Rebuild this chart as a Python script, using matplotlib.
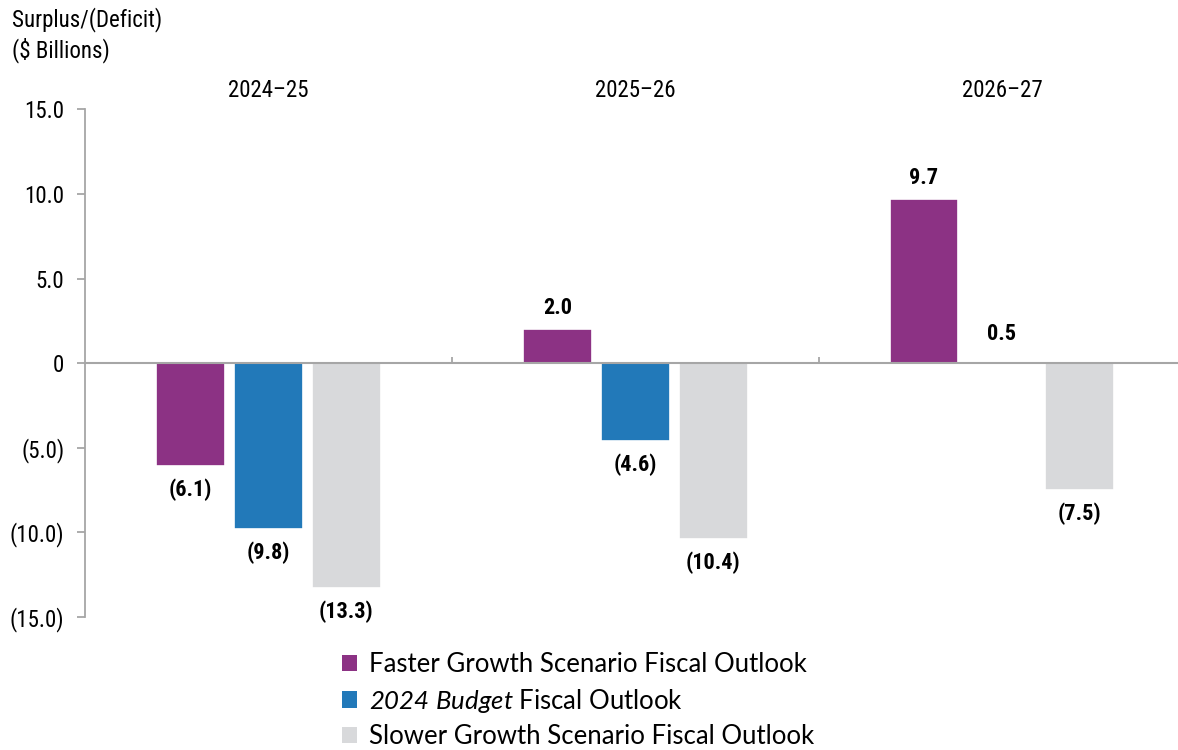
import numpy as np
import matplotlib.pyplot as plt
from matplotlib.patches import Patch
from matplotlib.transforms import blended_transform_factory

years = ["2024\u201325", "2025\u201326", "2026\u201327"]
faster = [-6.1, 2.0, 9.7]
budget = [-9.8, -4.6, 0.5]
slower = [-13.3, -10.4, -7.5]
series_labels = ["Faster Growth Scenario Fiscal Outlook",
                 r"$2024\ Budget$ Fiscal Outlook",
                 "Slower Growth Scenario Fiscal Outlook"]
colors = ["#8c3284", "#2279b9", "#d8d9db"]
yticks = [15, 10, 5, 0, -5, -10, -15]

narrow = ["Liberation Sans Narrow", "Roboto Condensed", "Liberation Sans"]
plt.rcParams["mathtext.fontset"] = "custom"
# digits inside mathtext come from the rm font, so make both italic
plt.rcParams["mathtext.rm"] = "Lato:italic"
plt.rcParams["mathtext.it"] = "Lato:italic"

def fmt(v):
    if v < 0:
        return "({:.1f})".format(-v)
    if v == 0:
        return "0"
    return "{:.1f}".format(v)

fig = plt.figure(figsize=(11.78, 7.5), dpi=100)
ax = fig.add_axes([0.0722, 0.1777, 0.9278, 0.6763])

x = np.arange(len(years))
off = 0.2125
w = 0.188
grey = "#a6a6a6"

for k, vals in enumerate([faster, budget, slower]):
    bars = ax.bar(x + (k - 1) * off, vals, w, color=colors[k],
                  edgecolor="white", linewidth=1.2, zorder=2)
    for b, v in zip(bars, vals):
        dy = 15 if v >= 0 else -17
        ax.annotate(fmt(v), (b.get_x() + b.get_width() / 2, v),
                    xytext=(0, dy), textcoords="offset points",
                    ha="center", va="center", fontsize=16,
                    fontweight="bold", family=narrow)
# the 0.5 bar for the 2024 Budget in 2026-27 is not drawn in the source
ax.patches[5].set_visible(False)

ax.set_xlim(-0.5, 2.48)
ax.set_ylim(-15, 15)
ax.set_yticks(yticks)
ax.set_yticklabels([fmt(v) for v in yticks], family=narrow, fontsize=16.5)
ax.tick_params(axis="y", direction="out", length=6, width=1.3, color=grey, pad=9)

ax.set_xticks([0.5, 1.5])
ax.set_xticklabels([])
ax.tick_params(axis="x", direction="in", length=4.5, width=1.3, color=grey)

for s in ["top", "right"]:
    ax.spines[s].set_visible(False)
ax.spines["bottom"].set_position(("data", 0))
ax.spines["bottom"].set_color(grey)
ax.spines["bottom"].set_linewidth(1.5)
ax.spines["bottom"].set_zorder(3)
ax.spines["left"].set_color(grey)
ax.spines["left"].set_linewidth(1.3)

tr = blended_transform_factory(ax.transData, ax.transAxes)
for i, yr in enumerate(years):
    ax.text(i, 1.038, yr, transform=tr, ha="center", va="center",
            fontsize=16.5, family=narrow)

fig.text(0.0102, 0.99, "Surplus/(Deficit)\n($ Billions)", ha="left", va="top",
         fontsize=16.5, family=narrow, linespacing=1.25)

handles = [Patch(facecolor=c, edgecolor="none") for c in colors]
fig.legend(handles, series_labels, loc="upper left",
           bbox_to_anchor=(0.2903, 0.131), frameon=False,
           prop={"family": "Lato", "size": 18.5},
           handlelength=0.6, handleheight=0.6, handletextpad=0.45,
           labelspacing=0.38, borderpad=0, borderaxespad=0)

fig.savefig("out.png", dpi=100)
